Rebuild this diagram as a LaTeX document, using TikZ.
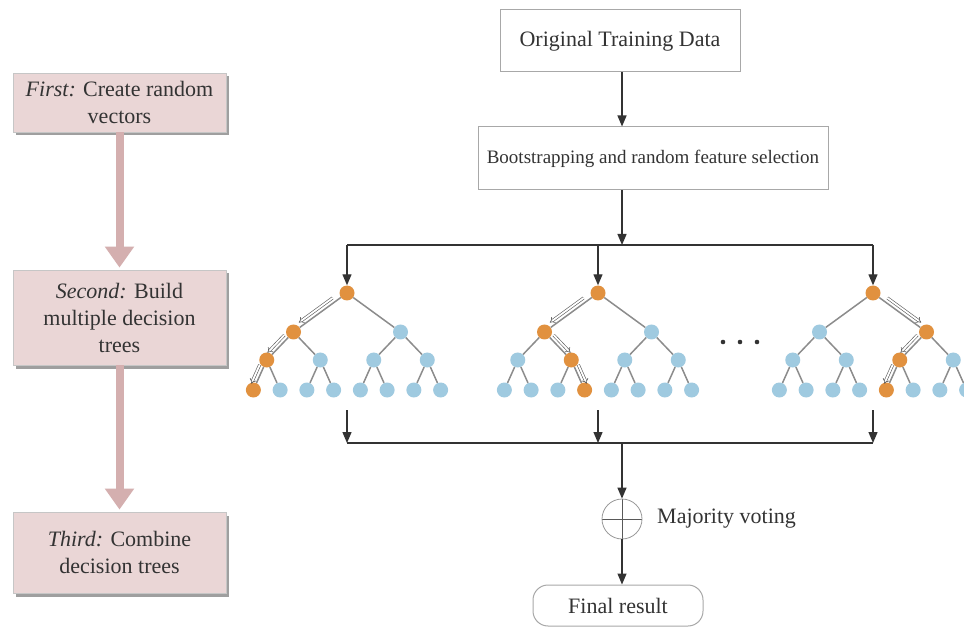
\documentclass[tikz,border=0pt]{standalone}
\usepackage{fontspec}
\setmainfont{Liberation Serif}
\usetikzlibrary{arrows.meta,calc,shadows}
\definecolor{pinkbox}{HTML}{EAD6D6}
\definecolor{pinkarrow}{HTML}{D4AFAF}
\definecolor{orangenode}{HTML}{E1913F}
\definecolor{bluenode}{HTML}{9FCAE0}
\definecolor{edgegray}{HTML}{8C8C8C}
\definecolor{linedark}{HTML}{333333}
\definecolor{boxborder}{HTML}{A8A8A8}
\definecolor{txt}{HTML}{333333}

\newcommand\drawtree[5]{%
  \node[tnode,fill=orangenode] (#1r) at (#2,293) {};
  \foreach \i in {0,1} {
    \ifnum\i=#3 \def\col{orangenode}\else\def\col{bluenode}\fi
    \node[tnode,fill=\col] (#1a\i) at ({#2+(2*\i-1)*53.5},332) {};
  }
  \foreach \j in {0,...,3} {
    \ifnum\j=#4 \def\col{orangenode}\else\def\col{bluenode}\fi
    \node[tnode,fill=\col] (#1b\j) at ({#2+(2*\j-3)*26.75},360) {};
  }
  \foreach \k in {0,...,7} {
    \ifnum\k=#5 \def\col{orangenode}\else\def\col{bluenode}\fi
    \node[tnode,fill=\col] (#1c\k) at ({#2+(\k-3.5)*26.75},390) {};
  }
  \foreach \i in {0,1} {\draw[tedge] (#1r) -- (#1a\i);}
  \foreach \j in {0,...,3} {
    \pgfmathtruncatemacro\pidx{floor(\j/2)}
    \draw[tedge] (#1a\pidx) -- (#1b\j);}
  \foreach \k in {0,...,7} {
    \pgfmathtruncatemacro\pidx{floor(\k/2)}
    \draw[tedge] (#1b\pidx) -- (#1c\k);}
}
\newcommand\dblarr[3]{%
  \draw[dblarrow] ($(#1)!0.22!(#2)!4.5pt!#3:(#2)$) -- ($(#1)!0.85!(#2)!4.5pt!#3:(#2)$);}

\begin{document}
\begin{tikzpicture}[x=1pt,y=-1pt,
  stepbox/.style={draw=gray!45, fill=pinkbox, line width=0.8pt, minimum width=213pt,
    align=center, text=txt, font=\fontsize{22}{27}\selectfont, inner sep=0pt,
    drop shadow={shadow xshift=3pt,shadow yshift=-3.5pt,fill=gray!75,opacity=1}},
  plainbox/.style={draw=boxborder, line width=1pt, fill=white, align=center, text=txt,
    font=\fontsize{22}{27}\selectfont, inner sep=0pt},
  pinkarr/.style={draw=pinkarrow, line width=8pt, -{Triangle[length=21pt,width=28pt]}},
  conn/.style={draw=linedark, line width=1.3pt, -{Triangle[length=11pt,width=9pt]}},
  plainline/.style={draw=linedark, line width=1.3pt},
  tnode/.style={circle, minimum size=15pt, inner sep=0pt},
  tedge/.style={draw=edgegray, line width=1.5pt},
  dblarrow/.style={draw=gray!70!black, line width=0.6pt, double=white, double distance=1.8pt, -{Implies}},
  lbl/.style={text=txt, font=\fontsize{22}{27}\selectfont, inner sep=0pt}
]
\useasboundingbox (0,0) rectangle (964,628);
\fill[white] (0,0) rectangle (964,628);

% left column
\node[stepbox, minimum height=59pt] (first) at (119.5,102.5) {\textit{First:} Create random\\vectors};
\node[stepbox, minimum height=95pt] (second) at (119.5,317.5) {\textit{Second:} Build\\multiple decision\\trees};
\node[stepbox, minimum height=81pt] (third) at (119.5,552.5) {\textit{Third:} Combine\\decision trees};
\draw[pinkarr] (first.south) -- ([yshift=2pt]second.north);
\draw[pinkarr] (second.south) -- ([yshift=2pt]third.north);

% top flow
\node[plainbox, minimum width=240pt, minimum height=62pt] (otd) at (620,41) {Original Training Data};
\node[plainbox, minimum width=350pt, minimum height=63pt, font=\fontsize{19}{23}\selectfont] (boot) at (653,158.5) {Bootstrapping and random feature selection};
\coordinate (topj) at (622,245);
\draw[conn] (otd.south -| topj) -- (boot.north -| topj);
\draw[conn] (boot.south -| topj) -- (topj);

% trees
\drawtree{t1}{347}{0}{0}{0}
\drawtree{t2}{598}{0}{1}{3}
\drawtree{t3}{873}{1}{2}{4}
\dblarr{t1r}{t1a0}{-90}
\dblarr{t1a0}{t1b0}{-90}
\dblarr{t1b0}{t1c0}{-90}
\dblarr{t2r}{t2a0}{-90}
\dblarr{t2a0}{t2b1}{90}
\dblarr{t2b1}{t2c3}{90}
\dblarr{t3r}{t3a1}{90}
\dblarr{t3a1}{t3b2}{-90}
\dblarr{t3b2}{t3c4}{-90}

\draw[plainline] (t1r |- topj) -- (t3r |- topj);
\draw[conn] (t1r |- topj) -- (t1r);
\draw[conn] (t2r |- topj) -- (t2r);
\draw[conn] (t3r |- topj) -- (t3r);

\foreach \x in {723,740,757} {\fill[linedark] (\x,342) circle (2.3pt);}

% bottom flow
\coordinate (botj) at (622,443);
\coordinate (s1) at (347,410);
\coordinate (s2) at (598,410);
\coordinate (s3) at (873,410);
\draw[plainline] (s1 |- botj) -- (s3 |- botj);
\draw[conn] (s1) -- (s1 |- botj);
\draw[conn] (s2) -- (s2 |- botj);
\draw[conn] (s3) -- (s3 |- botj);

\node[circle, draw=gray!80, line width=0.8pt, minimum size=40pt, inner sep=0pt,
  path picture={\draw[gray!70!black, line width=0.9pt]
    (path picture bounding box.north) -- (path picture bounding box.south)
    (path picture bounding box.west) -- (path picture bounding box.east);}] (vote) at (622,519) {};
\node[lbl, anchor=west] (mv) at (657,519) {Majority voting};
\draw[conn] (botj) -- (vote.north);
\node[plainbox, rounded corners=15pt, minimum width=170pt, minimum height=41pt] (final) at (618,605.5) {Final result};
\draw[conn] (vote.south) -- (vote.south |- final.north);
\end{tikzpicture}
\end{document}
